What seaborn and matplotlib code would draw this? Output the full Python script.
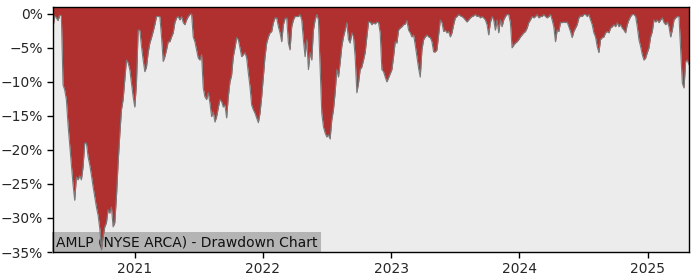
import numpy as np
import pandas as pd
import matplotlib
matplotlib.use("Agg")
import matplotlib.pyplot as plt
import matplotlib.dates as mdates
from matplotlib.ticker import PercentFormatter
import seaborn as sns

# ---- data (drawdown in %) ----
start_date = "2020-05-13"
end_date = "2025-04-29"
drawdown = [
    -2.0, -0.3, -0.6, -1.0, -0.2, -0.3, -10.4, -11.2, -12.6, -16.3,
    -19.3, -22.2, -25.1, -27.4, -24.0, -24.4, -23.8, -24.4, -22.5, -19.0,
    -19.0, -21.0, -22.2, -23.7, -25.4, -26.9, -28.4, -29.6, -31.5, -34.7,
    -32.8, -31.3, -30.7, -28.8, -29.3, -28.4, -31.3, -30.7, -26.9, -21.9,
    -17.8, -14.1, -12.6, -9.7, -6.8, -7.2, -8.2, -10.2, -12.2, -13.7,
    -10.2, -2.4, -2.4, -4.8, -6.8, -8.5, -7.8, -5.7, -4.3, -3.5,
    -2.6, -1.6, -0.4, -0.4, -0.4, -3.4, -7.0, -6.3, -5.3, -4.1,
    -4.1, -3.4, -2.8, -1.3, -0.6, -0.4, -0.9, -0.4, -1.3, -1.6,
    -0.9, -0.4, -0.1, 0.0, -3.4, -4.1, -5.3, -6.5, -6.8, -6.0,
    -10.9, -12.2, -12.6, -11.6, -13.1, -15.1, -14.4, -15.9, -15.1, -13.8,
    -12.6, -12.9, -13.7, -13.4, -15.3, -12.2, -10.0, -9.0, -6.3, -5.0,
    -3.5, -3.8, -5.0, -6.3, -6.0, -5.7, -6.5, -8.7, -10.7, -13.4,
    -14.1, -14.6, -15.3, -16.0, -14.6, -12.2, -9.3, -6.3, -4.3, -3.4,
    -2.8, -2.6, -1.3, -0.6, -0.6, -1.9, -2.8, -4.1, -1.6, -0.7,
    -0.6, -4.3, -5.3, -1.9, -0.9, -0.4, -0.4, -0.4, -0.1, -0.9,
    -3.8, -6.3, -3.8, -8.2, -5.7, -6.8, -2.4, -0.9, -0.1, -0.9,
    -7.8, -14.6, -16.6, -17.5, -18.1, -17.8, -18.4, -15.6, -14.1, -11.6,
    -8.2, -9.3, -7.2, -4.8, -3.4, -2.4, -1.3, -3.8, -4.3, -2.8,
    -3.4, -6.3, -11.6, -10.2, -8.2, -7.8, -6.8, -5.7, -3.4, -1.2,
    -1.2, -1.6, -1.3, -1.5, -1.2, -1.3, -2.8, -8.2, -8.5, -9.3,
    -10.0, -9.4, -8.8, -8.2, -6.3, -4.1, -4.3, -2.4, -2.1, -1.9,
    -1.6, -1.5, -1.0, -2.4, -2.8, -3.4, -3.1, -4.6, -6.3, -8.0,
    -9.3, -5.3, -3.8, -3.4, -3.1, -3.4, -3.5, -4.1, -5.6, -5.6,
    -5.3, -3.1, -0.9, -1.3, -2.6, -2.4, -2.8, -2.6, -3.4, -2.8,
    -1.6, -0.6, -0.4, -0.1, -0.3, -0.4, -0.6, -0.9, -1.2, -0.9,
    -0.6, -0.4, -0.3, -0.1, -0.4, -0.3, -0.6, -0.4, -0.6, -0.9,
    -1.6, -3.1, -1.3, -0.4, -0.9, -2.4, -0.9, -2.8, -0.9, -1.9,
    -0.9, -0.4, -0.1, -0.1, -1.3, -5.0, -4.6, -4.3, -4.1, -3.8,
    -3.4, -3.1, -2.8, -2.6, -2.1, -1.3, -0.9, -0.4, -0.6, -0.4,
    -0.1, -0.6, -0.4, -0.4, -0.1, -0.4, -0.6, -0.4, -0.1, -0.9,
    -1.9, -4.1, -2.4, -2.6, -1.3, -1.3, -1.2, -1.3, -1.2, -1.9,
    -2.6, -3.5, -2.6, -2.1, -1.6, -0.6, -0.3, -0.4, -0.1, -0.1,
    -0.4, -0.1, -0.9, -1.6, -2.8, -3.4, -4.8, -5.7, -3.8, -3.5,
    -3.4, -2.8, -2.6, -2.8, -2.1, -1.9, -1.6, -1.9, -1.3, -1.9,
    -1.6, -2.1, -2.4, -2.8, -1.6, -0.9, -0.4, -0.1, -0.1, -0.4,
    -1.9, -3.8, -4.8, -6.0, -6.8, -6.5, -5.7, -5.0, -3.4, -2.6,
    -0.9, -1.2, -0.9, -1.3, -0.9, -0.6, -1.3, -1.6, -1.2, -1.9,
    -3.4, -2.4, -0.9, -0.6, -0.4, -0.4, -5.3, -10.2, -10.9, -7.0,
    -6.8, -7.5,
]
y_ticks = [0, -5, -10, -15, -20, -25, -30, -35]
title_text = "AMLP (NYSE ARCA) - Drawdown Chart"

dates = pd.date_range(start_date, end_date, periods=len(drawdown))
df = pd.DataFrame({"date": dates, "drawdown": drawdown})

sns.set_theme(style="ticks", context="notebook")
plt.rcParams["font.family"] = ["DejaVu Sans"]

fig = plt.figure(figsize=(7, 2.8), dpi=100)
ax = fig.add_axes([53 / 700, 1 - 252 / 280, (689 - 53) / 700, (252 - 7) / 280])
ax.set_facecolor("#ececec")

ymax = 1.0
ax.fill_between(df["date"], df["drawdown"], ymax, color="#b03030",
                linewidth=0, zorder=2)
sns.lineplot(data=df, x="date", y="drawdown", ax=ax, color="#7a7a7a",
             linewidth=0.8, zorder=3)

ax.set_ylim(-35, ymax)
ax.set_xlim(df["date"].iloc[0], df["date"].iloc[-1])
ax.set_yticks(y_ticks)
ax.yaxis.set_major_formatter(PercentFormatter(decimals=0))
ax.xaxis.set_major_locator(mdates.YearLocator())
ax.xaxis.set_major_formatter(mdates.DateFormatter("%Y"))
ax.tick_params(axis="both", labelsize=10, length=4, width=1, color="black")
ax.set_xlabel("")
ax.set_ylabel("")
for s in ax.spines.values():
    s.set_visible(True)
    s.set_color("black")
    s.set_linewidth(1)
    s.set_zorder(5)

ax.text(0.004, 0.012, title_text, transform=ax.transAxes, fontsize=10,
        ha="left", va="bottom", color="#111111", zorder=1,
        bbox=dict(facecolor="#b4b4b4", edgecolor="none", pad=2.5))

fig.savefig("out.png", dpi=100)
